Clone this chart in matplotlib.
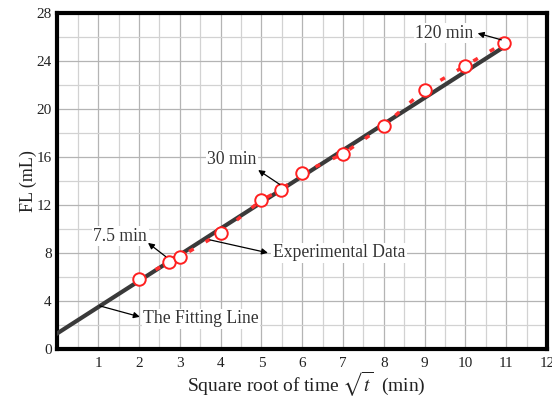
#!/usr/bin/env python3

"""
FL versus square root of time, with fitting line
"""

import numpy as np
import matplotlib
matplotlib.use("Agg")
import matplotlib.pyplot as plt
from matplotlib.ticker import MultipleLocator

# square root of time (min) and filtrate volume FL (mL)
sqrt_t = [2.0, 2.74, 3.0, 4.0, 5.0, 5.48, 6.0, 7.0, 8.0, 9.0, 10.0, 10.95]
fl_ml = [5.8, 7.25, 7.65, 9.65, 12.4, 13.25, 14.65, 16.25, 18.6, 21.6, 23.6, 25.5]

# fitting line
fit_intercept = 1.3
fit_slope = 2.18
fit_x = [0.0, 10.95]

x_ticks = list(range(1, 13))
y_ticks = list(range(0, 29, 4))

plt.rcParams["font.family"] = ["Liberation Serif", "DejaVu Serif"]
plt.rcParams["mathtext.fontset"] = "stix"

fig = plt.figure(figsize=(5.52, 4.01), dpi=100)
ax = fig.add_axes([0.104, 0.13, 0.887, 0.838])

ax.set_xlim(0, 12)
ax.set_ylim(0, 28)
ax.xaxis.set_major_locator(MultipleLocator(1))
ax.xaxis.set_minor_locator(MultipleLocator(0.5))
ax.yaxis.set_major_locator(MultipleLocator(4))
ax.yaxis.set_minor_locator(MultipleLocator(2))
ax.grid(which="major", color="#b4b4b4", linewidth=0.9)
ax.grid(which="minor", color="#d2d2d2", linewidth=0.9)
ax.set_axisbelow(True)

ax.set_xticks(x_ticks)
ax.set_xticklabels([str(v) for v in x_ticks])
ax.set_yticks(y_ticks)
ax.tick_params(which="both", length=0, labelsize=11, colors="#222222")
ax.tick_params(axis="x", pad=6)
ax.tick_params(axis="y", pad=4)

for sp in ax.spines.values():
    sp.set_linewidth(3)
    sp.set_color("black")

fx = np.array(fit_x)
ax.plot(fx, fit_intercept + fit_slope * fx, color="#3a3a3a", linewidth=3, zorder=3)
ax.plot(sqrt_t, fl_ml, color="#ff3030", linewidth=2.5, linestyle=(0, (1.5, 4)),
        zorder=4)
ax.plot(sqrt_t, fl_ml, linestyle="none", marker="o", markersize=9,
        markerfacecolor="white", markeredgecolor="#ff2020", markeredgewidth=1.4,
        zorder=5)

box = dict(facecolor="white", edgecolor="none", pad=1)
arrow = dict(arrowstyle="-|>", color="black", linewidth=0.9, mutation_scale=9,
             shrinkA=0, shrinkB=0)
text_kw = dict(fontsize=12.7, color="#333333", bbox=box, zorder=6)

ax.text(10.2, 26.3, "120 min", ha="right", va="center", **text_kw)
ax.annotate("", xy=(10.3, 26.3), xytext=(10.88, 25.75), arrowprops=arrow, zorder=6)

ax.text(4.88, 15.75, "30 min", ha="right", va="center", **text_kw)
ax.annotate("", xy=(4.92, 14.9), xytext=(5.45, 13.7), arrowprops=arrow, zorder=6)

ax.text(2.2, 9.4, "7.5 min", ha="right", va="center", **text_kw)
ax.annotate("", xy=(2.22, 8.83), xytext=(2.65, 7.7), arrowprops=arrow, zorder=6)

ax.text(5.28, 8.0, "Experimental Data", ha="left", va="center", **text_kw)
ax.annotate("", xy=(5.16, 8.0), xytext=(3.74, 9.08), arrowprops=arrow, zorder=6)

ax.text(2.1, 2.5, "The Fitting Line", ha="left", va="center", **text_kw)
ax.annotate("", xy=(2.02, 2.67), xytext=(1.04, 3.58), arrowprops=arrow, zorder=6)

fig.text(0.555, 0.04, r"Square root of time $\sqrt{t}$  (min)", fontsize=14,
         color="#222222", ha="center", va="center")
ax.set_ylabel("FL (mL)", fontsize=13, color="#222222", labelpad=0)

fig.savefig("out.png", dpi=100)
